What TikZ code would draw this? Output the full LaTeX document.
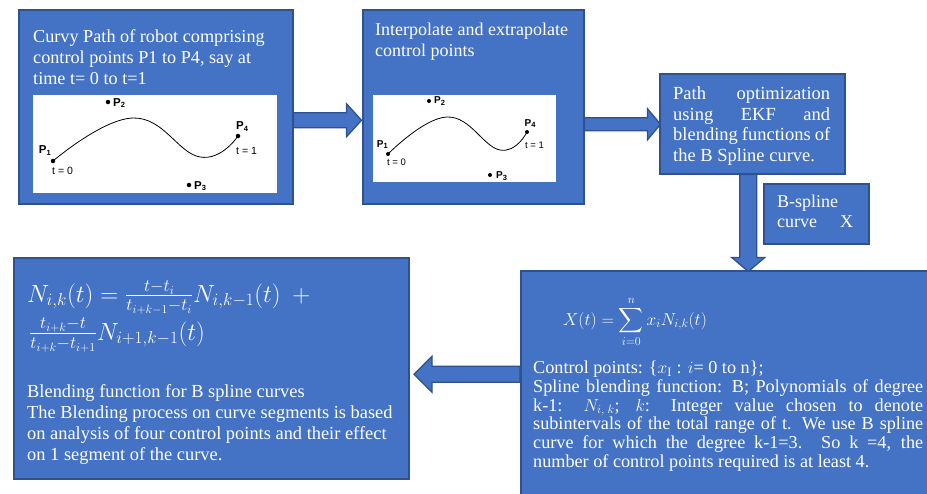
\documentclass[tikz,border=0pt]{standalone}
\usepackage{amsmath}
\usepackage{fontspec}
\setmainfont{Liberation Serif}
\newfontfamily\figfont{Liberation Sans}
\usepackage{xcolor}
\usetikzlibrary{positioning,calc}

\definecolor{boxblue}{HTML}{4472C4}
\definecolor{boxline}{HTML}{2F528F}
\newcommand{\pname}[1]{P\raisebox{-0.3ex}{\fontsize{7.5}{8}\selectfont #1}}

\begin{document}
\begin{tikzpicture}[x=1pt, y=-1pt,
    block/.style={rectangle, draw=boxline, line width=1.5pt, fill=boxblue, inner sep=0pt, anchor=north west},
    txt/.style={anchor=north west, inner sep=0pt, text=white, font=\fontsize{18.2}{21}\selectfont, align=left},
    jtxt/.style={txt, align=justify},
    eq/.style={anchor=base west, inner sep=0pt, text=white, font=\fontsize{23}{24}\selectfont},
    pic_area/.style={rectangle, fill=white, inner sep=0pt, anchor=north west},
    barrow/.style={draw=boxline, line width=1.3pt, fill=boxblue, line join=miter},
    dot/.style={circle, fill=black, inner sep=0pt, minimum size=4.5pt},
    plabel/.style={font=\figfont\bfseries\fontsize{11.5}{12}\selectfont, inner sep=0pt},
    tlabel/.style={font=\figfont\fontsize{10.5}{11}\selectfont, inner sep=0pt},
    curve/.style={draw, line width=0.8pt}]

    \useasboundingbox (0,0) rectangle (927,493);

    % Top row: robot path and interpolation
    \node [block, minimum width=274, minimum height=194] (curvy) at (18,9) {};
    \node [txt] (curvy_txt) at ($(curvy.north west)+(15,20.5)$) {Curvy Path of robot comprising\\control points P1 to P4, say at\\time t= 0 to t=1};
    \node [pic_area, minimum width=244, minimum height=98] (fig_a) at (33,95) {};

    \node [dot] (a_p1) at (53,161) {};
    \node [dot] (a_p2) at (108,102) {};
    \node [dot] (a_p3) at (189,185) {};
    \node [dot] (a_p4) at (238,136) {};
    \draw [curve] plot [smooth, tension=0.75] coordinates {(a_p1.center) (133,118) (200,157) (a_p4.center)};
    \node [plabel, anchor=south east] (a_l1) at ($(a_p1)+(-2,-5)$) {\pname{1}};
    \node [tlabel, anchor=north west] (a_t0) at ($(a_p1)+(-1,6)$) {t = 0};
    \node [plabel, anchor=west] (a_l2) at ($(a_p2)+(5,1)$) {\pname{2}};
    \node [plabel, anchor=west] (a_l3) at ($(a_p3)+(5,1)$) {\pname{3}};
    \node [plabel, anchor=south] (a_l4) at ($(a_p4)+(4,-4)$) {\pname{4}};
    \node [tlabel, anchor=north west] (a_t1) at ($(a_p4)+(-2,11)$) {t = 1};

    \node [block, minimum width=221, minimum height=194] (interp) at (362,9) {};
    \node [txt, font=\fontsize{18}{21}\selectfont] (interp_txt) at ($(interp.north west)+(13,14)$) {Interpolate and extrapolate\\control points};
    \node [pic_area, minimum width=183, minimum height=87] (fig_b) at (373,95) {};

    \node [dot, minimum size=4pt] (b_p1) at (388,154) {};
    \node [dot, minimum size=4pt] (b_p2) at (429,101) {};
    \node [dot, minimum size=4pt] (b_p3) at (490,175) {};
    \node [dot, minimum size=4pt] (b_p4) at (527,132) {};
    \draw [curve] plot [smooth, tension=0.75] coordinates {(b_p1.center) (447,117) (500,150) (b_p4.center)};
    \node [plabel, anchor=south east, font=\figfont\bfseries\fontsize{10}{10}\selectfont] (b_l1) at ($(b_p1)+(0,-5)$) {\pname{1}};
    \node [tlabel, anchor=north west, font=\figfont\fontsize{9.5}{10}\selectfont] (b_t0) at ($(b_p1)+(-1,5)$) {t = 0};
    \node [plabel, anchor=west, font=\figfont\bfseries\fontsize{10}{10}\selectfont] (b_l2) at ($(b_p2)+(5,0)$) {\pname{2}};
    \node [plabel, anchor=west, font=\figfont\bfseries\fontsize{10}{10}\selectfont] (b_l3) at ($(b_p3)+(6,1)$) {\pname{3}};
    \node [plabel, anchor=south, font=\figfont\bfseries\fontsize{10}{10}\selectfont] (b_l4) at ($(b_p4)+(3,-4)$) {\pname{4}};
    \node [tlabel, anchor=north west, font=\figfont\fontsize{9.5}{10}\selectfont] (b_t1) at ($(b_p4)+(-2,10)$) {t = 1};

    % Right column: optimization and B-spline
    \node [block, minimum width=185, minimum height=100] (pathopt) at (659,73) {};
    \node [jtxt, text width=157, font=\fontsize{18.5}{20.5}\selectfont] (pathopt_txt) at ($(pathopt.north west)+(14,13.5)$) {Path optimization\linebreak using EKF and\linebreak blending functions of\linebreak the B Spline curve.};

    \node [block, minimum width=105, minimum height=60] (bcurve) at (763,183) {};
    \node [txt, text width=76, font=\fontsize{18}{20}\selectfont] (bcurve_txt) at ($(bcurve.north west)+(14,12)$) {B-spline\\curve\hfill X};

    \node [block, minimum width=420, minimum height=240] (sumbox) at (520,270) {};
    \node [txt, anchor=base, font=\fontsize{17}{20}\selectfont] (sum_eq) at (635,325) {$X(t) = \displaystyle\sum_{i=0}^{n} x_i N_{i,k}(t)$};
    \node [jtxt, text width=390, font=\fontsize{18.2}{18.7}\selectfont] (sum_txt) at ($(sumbox.north west)+(13,91)$) {Control points: \{$x_{\mathrm{I}}$ : $i$= 0 to n\};\\
        Spline blending function: B; Polynomials of degree\linebreak k-1: $N_{i,\;k}$; $k$: Integer value chosen to denote\linebreak subintervals of the total range of t. We use B spline\linebreak curve for which the degree k-1=3. So k =4, the\linebreak number of control points required is at least 4.};

    % Bottom left: blending function
    \node [block, minimum width=395, minimum height=221] (blend) at (13,257) {};
    \node [eq] (blend_eq1) at (27,302) {$N_{i,k}(t) = \frac{t-t_i}{t_{i+k-1}-t_i}N_{i,k-1}(t) \enspace +$};
    \node [eq] (blend_eq2) at (29,340) {$\frac{t_{i+k}-t}{t_{i+k}-t_{i+1}}N_{i+1,k-1}(t)$};
    \node [txt, font=\fontsize{18.4}{21}\selectfont] (blend_txt) at ($(blend.north west)+(14,127.5)$) {Blending function for B spline curves\\The Blending process on curve segments is based\\on analysis of four control points and their effect\\on 1 segment of the curve.};

    % Block arrows
    \draw [barrow] ($(curvy.east)+(0,6)$) -- ++(53,0) -- ++(0,-9) -- ++(15,16.5) -- ++(-15,16.5) -- ++(0,-9) -- ++(-53,0) -- cycle;
    \draw [barrow] ($(interp.east)+(0,11)$) -- ++(63,0) -- ++(0,-9) -- ++(13,15.5) -- ++(-13,15.5) -- ++(0,-9) -- ++(-63,0) -- cycle;
    \draw [barrow] ($(pathopt.south)+(-12.5,0)$) -- ++(0,83) -- ++(-8,0) -- ++(16.5,14) -- ++(16.5,-14) -- ++(-8,0) -- ++(0,-83) -- cycle;
    \draw [barrow] ($(sumbox.west)+(0,-24.5)$) -- ++(-88,0) -- ++(0,-10) -- ++(-18,18) -- ++(18,18) -- ++(0,-10) -- ++(88,0) -- cycle;
\end{tikzpicture}
\end{document}
